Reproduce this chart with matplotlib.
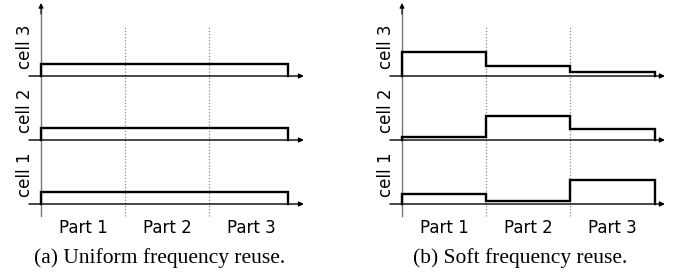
import matplotlib
matplotlib.use("Agg")
import matplotlib.pyplot as plt

# ---- data ----
cells = ["cell 1", "cell 2", "cell 3"]
parts = ["Part 1", "Part 2", "Part 3"]
uniform_power = [[0.5, 0.5, 0.5],   # cell 1
                 [0.5, 0.5, 0.5],   # cell 2
                 [0.5, 0.5, 0.5]]   # cell 3
soft_power = [[0.42, 0.12, 1.0],    # cell 1
              [0.12, 1.0, 0.46],    # cell 2
              [1.0, 0.42, 0.16]]    # cell 3
captions = ["(a) Uniform frequency reuse.", "(b) Soft frequency reuse."]

W, H = 678, 276
fig = plt.figure(figsize=(W / 100, H / 100), dpi=100)

SCALE = 24.0      # px per unit power
ROW = 64.0        # px between cell baselines

def panel(x0_px, power, caption, bar_end):
    ppx = 84.0
    left_px, right_px = x0_px - 14, x0_px + 272
    top_px, bot_px = 0, 276
    ax = fig.add_axes([left_px / W, 1 - bot_px / H,
                       (right_px - left_px) / W, (bot_px - top_px) / H])
    ax.set_xlim((left_px - x0_px) / ppx, (right_px - x0_px) / ppx)
    ax.set_ylim(204 - bot_px, 204 - top_px)
    ax.axis("off")

    for k in (1, 2):
        ax.plot([k, k], [-12, 178], color="#888888", lw=0.9,
                linestyle=(0, (1, 1.5)))
    # vertical axis (gray) with dark arrow head
    ax.plot([0, 0], [-12, 196], color="#777777", lw=1.0)
    ax.annotate("", xy=(0, 201), xytext=(0, 190),
                arrowprops=dict(arrowstyle="-|>", color="black", lw=0.8,
                                mutation_scale=7, shrinkA=0, shrinkB=0))
    for i, cell in enumerate(cells):
        base = i * ROW
        ax.annotate("", xy=(3.13, base), xytext=(-0.143, base),
                    arrowprops=dict(arrowstyle="-|>", color="black", lw=1.0,
                                    mutation_scale=7, shrinkA=0, shrinkB=0))
        vals = power[i]
        xs = [0.0]
        ys = [base]
        edges = [0, 1, 2, bar_end]
        for j, v in enumerate(vals):
            h = base + v * SCALE
            xs += [edges[j], edges[j + 1]]
            ys += [h, h]
        xs.append(bar_end)
        ys.append(base)
        ax.plot(xs, ys, color="black", lw=1.7, solid_joinstyle="miter")
        ax.text(-0.19, base + 29, cell, rotation=90, ha="center", va="center",
                fontsize=12, family="DejaVu Sans")
    for j, p in enumerate(parts):
        ax.text(j + 0.5, 204 - 228, p, ha="center", va="center", fontsize=12,
                family="DejaVu Sans")
    ax.text(1.41, 204 - 258, caption, ha="center", va="center", fontsize=15.5,
            family="Liberation Serif")

panel(41, uniform_power, captions[0], 2.94)
panel(402, soft_power, captions[1], 3.01)

fig.savefig("out.png", dpi=100)
